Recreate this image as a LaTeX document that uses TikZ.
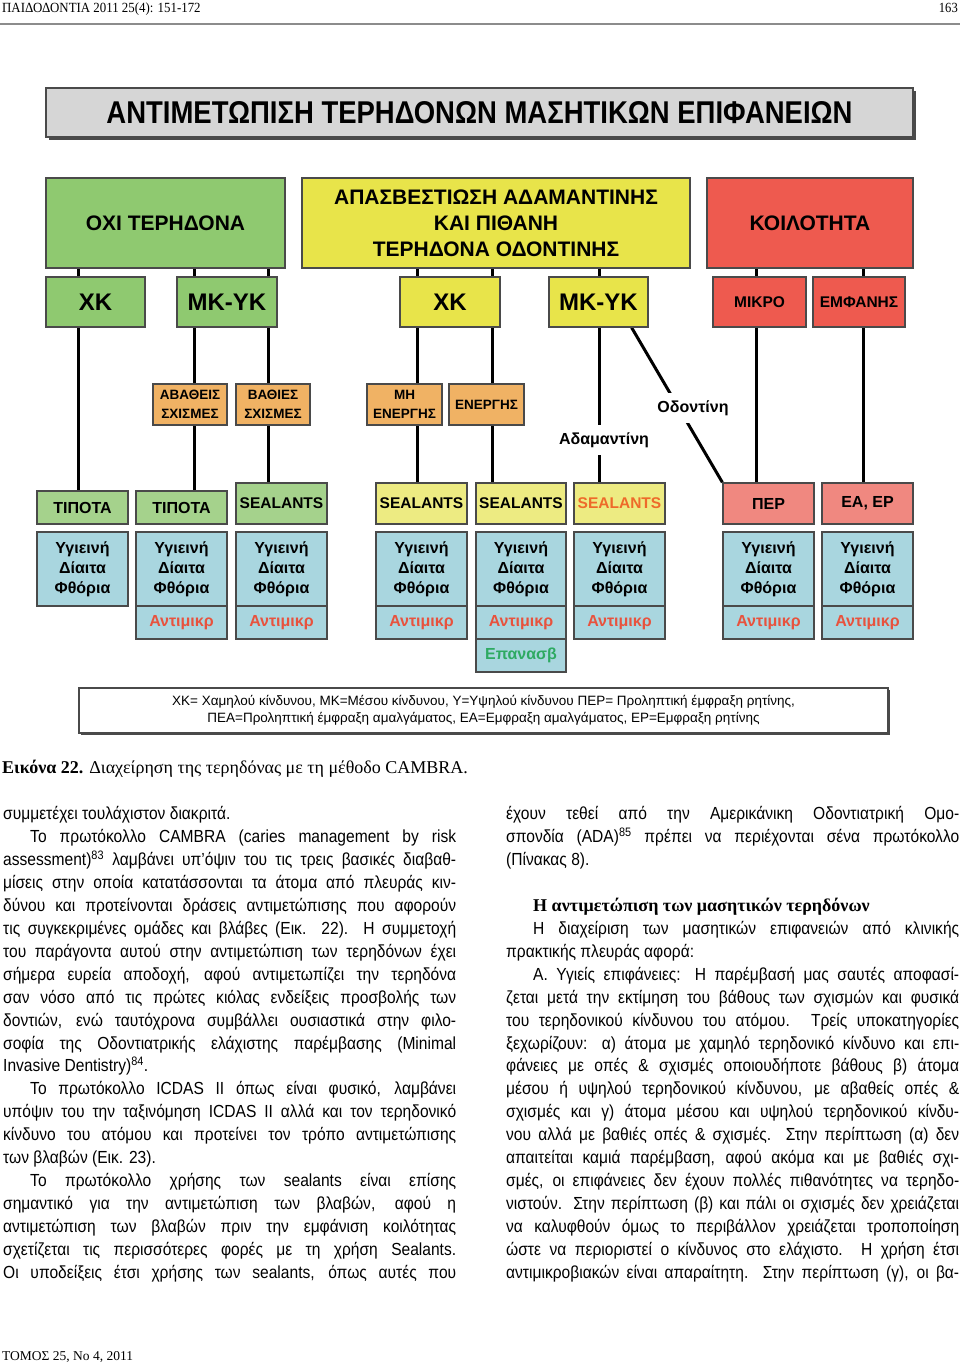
\documentclass[tikz,border=0pt]{standalone}
\usepackage{fontspec}
\usepackage{graphicx}
\setmainfont{Liberation Sans}
\newfontfamily\dg{Liberation Sans}
\newfontfamily\bodyf[FakeStretch=0.89]{Liberation Sans}
\newfontfamily\serf{Liberation Serif}
\usetikzlibrary{calc}
\pgfdeclarelayer{bg}
\pgfsetlayers{bg,main}
\definecolor{ttl}{HTML}{D6D6D6}
\definecolor{grn}{HTML}{8FC970}
\definecolor{yel}{HTML}{E8E44A}
\definecolor{redA}{HTML}{EE5A4F}
\definecolor{org}{HTML}{F0B264}
\definecolor{lgrn}{HTML}{A5D28C}
\definecolor{lyel}{HTML}{EDEB82}
\definecolor{lred}{HTML}{F08880}
\definecolor{blu}{HTML}{A9D6DF}
\definecolor{bdr}{HTML}{4A4A4A}
\definecolor{txtred}{HTML}{E8523D}
\definecolor{txtgrn}{HTML}{2EAA62}
\definecolor{sealorg}{HTML}{EE6A2A}
\tikzset{
  box/.style={draw=bdr, line width=1.3pt, inner sep=0pt, align=center, font=\dg\bfseries},
  fA/.style={font=\dg\bfseries\fontsize{21}{26}\selectfont},
  fB/.style={font=\dg\bfseries\fontsize{24}{28}\selectfont},
  fC/.style={font=\dg\bfseries\fontsize{15.5}{18}\selectfont},
  fD/.style={font=\dg\bfseries\fontsize{13.5}{19}\selectfont},
  fE/.style={font=\dg\bfseries\fontsize{16}{20}\selectfont},
  conn/.style={line width=3pt, black},
  lbl/.style={fill=white, inner xsep=3pt, inner ysep=7pt, font=\dg\bfseries\fontsize{16}{18}\selectfont},
  body/.style={anchor=base west, inner sep=0pt, font=\bodyf\fontsize{17.5}{21}\selectfont},
}
\newcommand\bx[7]{\node[box,#6,minimum width={(#4)-(#2)},minimum height={(#5)-(#3)}] (#1) at ({((#2)+(#4))/2},{((#3)+(#5))/2}) {#7};}
\newcommand\J[4]{\node[body] (#1) at (#2,{819.5+(#3-1)*22.95}) {\makebox[453pt][s]{#4}};}
\newcommand\Lf[4]{\node[body] (#1) at (#2,{819.5+(#3-1)*22.95}) {#4};}
\newcommand\ind{\hspace*{27pt}}
\newcommand\ygi{Υγιεινή\\Δίαιτα\\Φθόρια}
\begin{document}
\begin{tikzpicture}[x=1pt,y=-1pt]
\useasboundingbox (0,0) rectangle (960,1363);
% header
\node[anchor=base west, inner sep=0pt, font=\serf\fontsize{14}{16}\selectfont] (hdr) at (2,12) {\scalebox{0.92}[1]{ΠΑΙΔΟΔΟΝΤΙΑ 2011 25(4): 151-172}};
\node[anchor=base east, inner sep=0pt, font=\serf\fontsize{14}{16}\selectfont] (pgn) at (958,12) {\scalebox{0.9}[1]{163}};
\draw[line width=1.2pt, black!45] (0,24) -- (960,24);
% title
\fill[bdr] (49,91) rectangle (916,140);
\node[box, fill=ttl, draw=bdr, line width=1.5pt, minimum width=867pt, minimum height=49pt] (title) at (479.5,112.5) {\resizebox{746pt}{22pt}{ΑΝΤΙΜΕΤΩΠΙΣΗ ΤΕΡΗΔΟΝΩΝ ΜΑΣΗΤΙΚΩΝ ΕΠΙΦΑΝΕΙΩΝ}};
% row 1
\bx{gtop}{46}{178}{285}{268}{fill=grn,fA}{ΟΧΙ ΤΕΡΗΔΟΝΑ}
\bx{ytop}{302}{178}{690}{268}{fill=yel,fA}{ΑΠΑΣΒΕΣΤΙΩΣΗ ΑΔΑΜΑΝΤΙΝΗΣ\\ΚΑΙ ΠΙΘΑΝΗ\\ΤΕΡΗΔΟΝΑ ΟΔΟΝΤΙΝΗΣ}
\bx{rtop}{707}{178}{913}{268}{fill=redA,fA}{ΚΟΙΛΟΤΗΤΑ}
% row 2
\bx{gxk}{46}{277}{145}{327}{fill=grn,fB}{ΧΚ}
\bx{gmk}{177}{277}{277}{327}{fill=grn,fB}{ΜΚ-ΥΚ}
\bx{yxk}{400}{277}{500}{327}{fill=yel,fB}{ΧΚ}
\bx{ymk}{549}{277}{648}{327}{fill=yel,fB}{ΜΚ-ΥΚ}
\bx{mik}{713}{277}{806}{327}{fill=redA,fC}{ΜΙΚΡΟ}
\bx{emf}{813}{277}{905}{327}{fill=redA,fC}{ΕΜΦΑΝΗΣ}
% row 3
\bx{abath}{153}{384}{227}{425}{fill=org,fD}{ΑΒΑΘΕΙΣ\\ΣΧΙΣΜΕΣ}
\bx{bath}{236}{384}{310}{425}{fill=org,fD}{ΒΑΘΙΕΣ\\ΣΧΙΣΜΕΣ}
\bx{mhen}{367}{384}{442}{425}{fill=org,fD}{ΜΗ\\ΕΝΕΡΓΗΣ}
\bx{energ}{449}{384}{524}{425}{fill=org,fD}{ΕΝΕΡΓΗΣ}
% row 4
\bx{tip1}{37}{491}{128}{524}{fill=lgrn,fE}{ΤΙΠΟΤΑ}
\bx{tip2}{136}{491}{227}{524}{fill=lgrn,fE}{ΤΙΠΟΤΑ}
\bx{sealg}{236}{483}{327}{524}{fill=lgrn,fC}{SEALANTS}
\bx{seal1}{376}{483}{467}{524}{fill=lyel,fC}{SEALANTS}
\bx{seal2}{476}{483}{566}{524}{fill=lyel,fC}{SEALANTS}
\bx{seal3}{574}{483}{665}{524}{fill=lyel,fC,text=sealorg}{SEALANTS}
\bx{per}{723}{483}{814}{524}{fill=lred,fE}{ΠΕΡ}
\bx{eaep}{822}{483}{913}{524}{fill=lred,fE}{ΕΑ, ΕΡ}
% labels
\node[lbl] (adam) at (604,440) {Αδαμαντίνη};
\node[lbl] (odon) at (693,408) {Οδοντίνη};
% row 5
\bx{b1}{37}{532}{128}{606}{fill=blu,fE}{\ygi}
\bx{b2}{136}{532}{227}{606}{fill=blu,fE}{\ygi}
\bx{b3}{236}{532}{327}{606}{fill=blu,fE}{\ygi}
\bx{b4}{376}{532}{467}{606}{fill=blu,fE}{\ygi}
\bx{b5}{476}{532}{566}{606}{fill=blu,fE}{\ygi}
\bx{b6}{574}{532}{665}{606}{fill=blu,fE}{\ygi}
\bx{b7}{723}{532}{814}{606}{fill=blu,fE}{\ygi}
\bx{b8}{822}{532}{913}{606}{fill=blu,fE}{\ygi}
\bx{a2}{136}{606}{227}{639}{fill=blu,fE,text=txtred}{Αντιμικρ}
\bx{a3}{236}{606}{327}{639}{fill=blu,fE,text=txtred}{Αντιμικρ}
\bx{a4}{376}{606}{467}{639}{fill=blu,fE,text=txtred}{Αντιμικρ}
\bx{a5}{476}{606}{566}{639}{fill=blu,fE,text=txtred}{Αντιμικρ}
\bx{a6}{574}{606}{665}{639}{fill=blu,fE,text=txtred}{Αντιμικρ}
\bx{a7}{723}{606}{814}{639}{fill=blu,fE,text=txtred}{Αντιμικρ}
\bx{a8}{822}{606}{913}{639}{fill=blu,fE,text=txtred}{Αντιμικρ}
\bx{e5}{476}{639}{566}{672}{fill=blu,fE,text=txtgrn}{Επανασβ}
% connectors
\begin{pgfonlayer}{bg}
\fill[white] (0,0) rectangle (960,1363);
\draw[conn] (gtop.south -| 78,0) -- (tip1.north -| 78,0);
\draw[conn] (gtop.south -| 194,0) -- (tip2.north -| 194,0);
\draw[conn] (gtop.south -| 268,0) -- (sealg.north -| 268,0);
\draw[conn] (ytop.south -| 417,0) -- (seal1.north -| 417,0);
\draw[conn] (ytop.south -| 492,0) -- (seal2.north -| 492,0);
\draw[conn] (ytop.south -| 599,0) -- (seal3.north -| 599,0);
\draw[conn] ($(ymk.south east)+(-17,0)$) -- (per.north west);
\draw[conn] (rtop.south -| 756,0) -- (per.north -| 756,0);
\draw[conn] (rtop.south -| 863,0) -- (eaep.north -| 863,0);
\end{pgfonlayer}
% legend
\fill[bdr] (81,690) rectangle (890,735);
\node[draw=bdr, line width=1.5pt, fill=white, minimum width=809pt, minimum height=45pt, inner sep=0pt, align=center, font=\dg\fontsize{13.5}{17}\selectfont] (legend) at (483.5,710.5) {ΧΚ= Χαμηλού κίνδυνου, ΜΚ=Μέσου κίνδυνου, Υ=Υψηλού κίνδυνου ΠΕΡ= Προληπτική έμφραξη ρητίνης,\\ΠΕΑ=Προληπτική έμφραξη αμαλγάματος, ΕΑ=Εμφραξη αμαλγάματος, ΕΡ=Εμφραξη ρητίνης};
% caption
\node[anchor=base west, inner sep=0pt, font=\serf\fontsize{18}{20}\selectfont] (caption) at (2,773) {\textbf{Εικόνα 22.} Διαχείρηση της τερηδόνας με τη μέθοδο CAMBRA.};
% left column
\Lf{l1}{3}{1}{συμμετέχει τουλάχιστον διακριτά.}
\J{l2}{3}{2}{\ind Το πρωτόκολλο CAMBRA (caries management by risk}
\J{l3}{3}{3}{assessment)\textsuperscript{83} λαμβάνει υπ’όψιν του τις τρεις βασικές διαβαθ-}
\J{l4}{3}{4}{μίσεις στην οποία κατατάσσονται τα άτομα από πλευράς κιν-}
\J{l5}{3}{5}{δύνου και προτείνονται δράσεις αντιμετώπισης που αφορούν}
\J{l6}{3}{6}{τις συγκεκριμένες ομάδες και βλάβες (Εικ. 22). Η συμμετοχή}
\J{l7}{3}{7}{του παράγοντα αυτού στην αντιμετώπιση των τερηδόνων έχει}
\J{l8}{3}{8}{σήμερα ευρεία αποδοχή, αφού αντιμετωπίζει την τερηδόνα}
\J{l9}{3}{9}{σαν νόσο από τις πρώτες κιόλας ενδείξεις προσβολής των}
\J{l10}{3}{10}{δοντιών, ενώ ταυτόχρονα συμβάλλει ουσιαστικά στην φιλο-}
\J{l11}{3}{11}{σοφία της Οδοντιατρικής ελάχιστης παρέμβασης (Minimal}
\Lf{l12}{3}{12}{Invasive Dentistry)\textsuperscript{84}.}
\J{l13}{3}{13}{\ind Το πρωτόκολλο ICDAS II όπως είναι φυσικό, λαμβάνει}
\J{l14}{3}{14}{υπόψιν του την ταξινόμηση ICDAS II αλλά και τον τερηδονικό}
\J{l15}{3}{15}{κίνδυνο του ατόμου και προτείνει τον τρόπο αντιμετώπισης}
\Lf{l16}{3}{16}{των βλαβών (Εικ. 23).}
\J{l17}{3}{17}{\ind Το πρωτόκολλο χρήσης των sealants είναι επίσης}
\J{l18}{3}{18}{σημαντικό για την αντιμετώπιση των βλαβών, αφού η}
\J{l19}{3}{19}{αντιμετώπιση των βλαβών πριν την εμφάνιση κοιλότητας}
\J{l20}{3}{20}{σχετίζεται τις περισσότερες φορές με τη χρήση Sealants.}
\J{l21}{3}{21}{Οι υποδείξεις έτσι χρήσης των sealants, όπως αυτές που}
% right column
\J{r1}{506}{1}{έχουν τεθεί από την Αμερικάνικη Οδοντιατρική Ομο-}
\J{r2}{506}{2}{σπονδία (ADA)\textsuperscript{85} πρέπει να περιέχονται σένα πρωτόκολλο}
\Lf{r3}{506}{3}{(Πίνακας 8).}
\node[body, font=\serf\bfseries\fontsize{18}{21}\selectfont] (r4) at (506,{819.5+4*22.95}) {\ind Η αντιμετώπιση των μασητικών τερηδόνων};
\J{r5}{506}{6}{\ind Η διαχείριση των μασητικών επιφανειών από κλινικής}
\Lf{r6}{506}{7}{πρακτικής πλευράς αφορά:}
\J{r7}{506}{8}{\ind Α. Υγιείς επιφάνειες: Η παρέμβασή μας σαυτές αποφασί-}
\J{r8}{506}{9}{ζεται μετά την εκτίμηση του βάθους των σχισμών και φυσικά}
\J{r9}{506}{10}{του τερηδονικού κίνδυνου του ατόμου. Τρείς υποκατηγορίες}
\J{r10}{506}{11}{ξεχωρίζουν: α) άτομα με χαμηλό τερηδονικό κίνδυνο και επι-}
\J{r11}{506}{12}{φάνειες με οπές \& σχισμές οποιουδήποτε βάθους β) άτομα}
\J{r12}{506}{13}{μέσου ή υψηλού τερηδονικού κίνδυνου, με αβαθείς οπές \&}
\J{r13}{506}{14}{σχισμές και γ) άτομα μέσου και υψηλού τερηδονικού κίνδυ-}
\J{r14}{506}{15}{νου αλλά με βαθιές οπές \& σχισμές. Στην περίπτωση (α) δεν}
\J{r15}{506}{16}{απαιτείται καμιά παρέμβαση, αφού ακόμα και με βαθιές σχι-}
\J{r16}{506}{17}{σμές, οι επιφάνειες δεν έχουν πολλές πιθανότητες να τερηδο-}
\J{r17}{506}{18}{νιστούν. Στην περίπτωση (β) και πάλι οι σχισμές δεν χρειάζεται}
\J{r18}{506}{19}{να καλυφθούν όμως το περιβάλλον χρειάζεται τροποποίηση}
\J{r19}{506}{20}{ώστε να περιοριστεί ο κίνδυνος στο ελάχιστο. Η χρήση έτσι}
\J{r20}{506}{21}{αντιμικροβιακών είναι απαραίτητη. Στην περίπτωση (γ), οι βα-}
% footer
\node[anchor=base west, inner sep=0pt, font=\serf\fontsize{13.5}{16}\selectfont] (ftr) at (2,1360) {ΤΟΜΟΣ 25, No 4, 2011};
\end{tikzpicture}
\end{document}
